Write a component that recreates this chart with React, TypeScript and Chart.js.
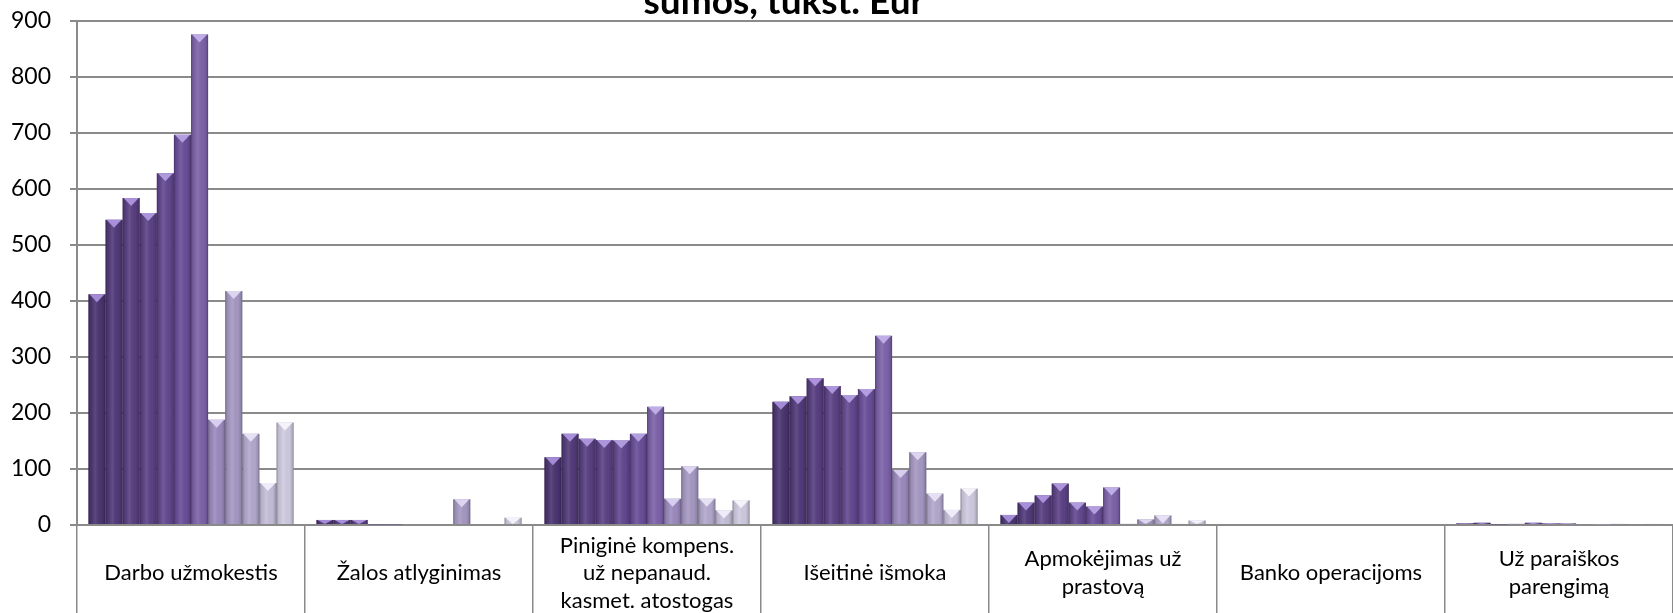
import React, { useEffect, useRef } from "react";
import { Chart, registerables } from "chart.js";

Chart.register(...registerables);

const chartTitle = "sumos, tūkst. Eur";

const categories: (string | string[])[] = [
  "Darbo užmokestis",
  "Žalos atlyginimas",
  ["Piniginė kompens.", "už nepanaud.", "kasmet. atostogas"],
  "Išeitinė išmoka",
  ["Apmokėjimas už", "prastovą"],
  "Banko operacijoms",
  ["Už paraiškos", "parengimą"],
];

const yTicks = [0, 100, 200, 300, 400, 500, 600, 700, 800, 900];

// values per category, one per series (12 series)
const darboUzmokestis = [412, 545, 584, 557, 628, 697, 876, 188, 418, 163, 75, 183];
const zalosAtlyginimas = [9, 9, 9, 1, 1, 0, 0, 0, 46, 0, 0, 13];
const pinigineKompens = [121, 163, 154, 152, 151, 163, 211, 47, 105, 47, 26, 44];
const iseitineIsmoka = [220, 230, 262, 248, 232, 243, 338, 98, 130, 56, 27, 65];
const apmokejimasUzPrastova = [18, 40, 53, 74, 40, 33, 67, 2, 10, 17, 2, 8];
const bankoOperacijoms = [0, 0, 0, 0, 0, 0, 0, 0, 0, 0, 0, 0];
const uzParaiskosParengima = [3, 4, 1, 2, 4, 3, 3, 0, 1, 2, 0, 2];

const seriesNames = [
  "Serija 1", "Serija 2", "Serija 3", "Serija 4", "Serija 5", "Serija 6",
  "Serija 7", "Serija 8", "Serija 9", "Serija 10", "Serija 11", "Serija 12",
];

const seriesColors = [
  "#4b3570", "#523a79", "#583e80", "#5c4286", "#634890", "#6a4e99",
  "#7d63aa", "#9c8bbf", "#a699c4", "#b3a9cd", "#c5bed9", "#d0cbe0",
];
const seriesTopColors = [
  "#a58bd6", "#a88fd9", "#ab92db", "#ad95dc", "#b09ade", "#b39fe0",
  "#bfaee6", "#d8cff0", "#ddd5f0", "#e6e0f4", "#efebf8", "#f5f2fa",
];

const categoryValues = [
  darboUzmokestis,
  zalosAtlyginimas,
  pinigineKompens,
  iseitineIsmoka,
  apmokejimasUzPrastova,
  bankoOperacijoms,
  uzParaiskosParengima,
];

const bevelPlugin = {
  id: "bevel",
  afterDatasetsDraw(chart: any) {
    const ctx = chart.ctx;
    const area = chart.chartArea;
    ctx.save();
    ctx.beginPath();
    ctx.rect(area.left, area.top, area.right - area.left, area.bottom - area.top);
    ctx.clip();
    chart.data.datasets.forEach((ds: any, di: number) => {
      const meta = chart.getDatasetMeta(di);
      if (meta.hidden) return;
      meta.data.forEach((bar: any) => {
        const { x, y, base, width } = bar.getProps(["x", "y", "base", "width"], true);
        const left = x - width / 2;
        const right = x + width / 2;
        const top = Math.min(y, base);
        const h = Math.abs(base - y);
        if (h < 0.5) return;
        const g = ctx.createLinearGradient(left, 0, right, 0);
        g.addColorStop(0, "rgba(0,0,0,0.32)");
        g.addColorStop(0.12, "rgba(0,0,0,0.08)");
        g.addColorStop(0.4, "rgba(255,255,255,0.10)");
        g.addColorStop(0.75, "rgba(0,0,0,0.02)");
        g.addColorStop(0.92, "rgba(0,0,0,0.15)");
        g.addColorStop(1, "rgba(0,0,0,0.38)");
        ctx.fillStyle = g;
        ctx.fillRect(left, top, width, h);
        const th = Math.min(8, h);
        ctx.beginPath();
        ctx.moveTo(left + 1, top);
        ctx.lineTo(right - 1, top);
        ctx.lineTo(x, top + th);
        ctx.closePath();
        ctx.fillStyle = seriesTopColors[di];
        ctx.fill();
      });
    });
    ctx.restore();
  },
};

const titlePlugin = {
  id: "cutTitle",
  afterDraw(chart: any) {
    const ctx = chart.ctx;
    ctx.save();
    ctx.font = "bold 37px Lato";
    ctx.fillStyle = "#000";
    ctx.textAlign = "center";
    ctx.textBaseline = "alphabetic";
    ctx.fillText(chartTitle, 784, 14);
    ctx.restore();
  },
};

export default function App() {
  const canvasRef = useRef<HTMLCanvasElement | null>(null);

  useEffect(() => {
    if (!canvasRef.current) return;
    const datasets = seriesNames.map((name, si) => ({
      label: name,
      data: categoryValues.map((arr) => arr[si]),
      backgroundColor: seriesColors[si],
      borderWidth: 0,
      categoryPercentage: 0.9,
      barPercentage: 1.0,
    }));
    const chart = new Chart(canvasRef.current, {
      type: "bar",
      data: { labels: categories, datasets },
      plugins: [bevelPlugin, titlePlugin],
      options: {
        animation: false,
        responsive: true,
        maintainAspectRatio: false,
        layout: { padding: { top: 21, right: 0, left: 0, bottom: 0 } },
        plugins: {
          legend: { display: false },
          title: { display: false },
          tooltip: { enabled: false },
        },
        scales: {
          x: {
            offset: true,
            afterFit: (scale: any) => {
              scale.height = 88;
            },
            border: { display: true, color: "#8a8a8a", width: 2 },
            grid: {
              display: true,
              offset: true,
              drawOnChartArea: false,
              drawTicks: true,
              tickLength: 88,
              color: "#8a8a8a",
              lineWidth: 1.5,
            },
            ticks: {
              color: "#000",
              font: { family: "Lato", size: 22, lineHeight: 1.25 },
              padding: -67.5,
              crossAlign: "center",
              maxRotation: 0,
              minRotation: 0,
              autoSkip: false,
            },
          },
          y: {
            min: 0,
            max: 900,
            afterFit: (scale: any) => {
              scale.width = 77;
              scale.paddingTop = 0;
              scale.paddingBottom = 0;
            },
            afterBuildTicks: (scale: any) => {
              scale.ticks = yTicks.map((v) => ({ value: v }));
            },
            border: { display: true, color: "#8a8a8a", width: 2 },
            grid: {
              color: "#8a8a8a",
              lineWidth: 2,
              drawTicks: true,
              tickLength: 7,
            },
            ticks: {
              color: "#000",
              font: { family: "Lato", size: 23 },
              padding: 19,
            },
          },
        },
      },
    });
    return () => chart.destroy();
  }, []);

  return (
    <div
      style={{
        position: "fixed",
        left: 0,
        top: 0,
        width: "1673px",
        height: "613px",
        overflow: "hidden",
        background: "#fff",
      }}
    >
      <div style={{ position: "relative", width: "1673px", height: "613px" }}>
        <canvas ref={canvasRef} />
      </div>
    </div>
  );
}
